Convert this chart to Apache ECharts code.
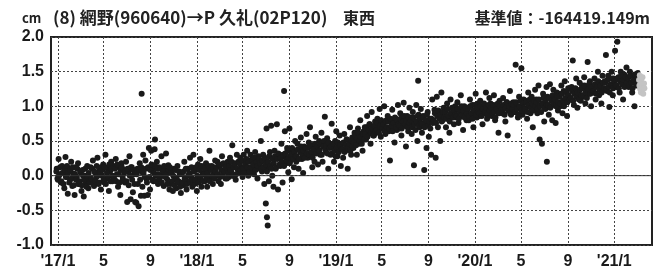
<!DOCTYPE html>
<html>
<head>
<meta charset="utf-8">
<script src="https://cdn.jsdelivr.net/npm/echarts@6/dist/echarts.min.js"></script>
<style>
  html, body { margin: 0; padding: 0; background: #fff; }
  #chart { width: 667px; height: 275px; }
</style>
</head>
<body>
<div id="chart"></div>
<script>
// 東西成分 (cm), 2016-12-28 から 3日おき
const mainStart = [2016, 12, 28]
const mainStep = 3
const mainValues = [
  0.06, -0.04, 0.24, 0.02, -0.1, 0.14, 0.04, -0.18, 0.27, -0.02,
  -0.26, 0.1, -0.06, 0.2, -0.15, 0.03, -0.28, 0.12, -0.02, 0.18,
  -0.12, 0.05, -0.22, 0.08, -0.3, 0.0, -0.1, 0.14, -0.18, -0.05,
  0.12, -0.08, 0.22, -0.15, 0.04, -0.02, 0.26, -0.12, 0.08, -0.2,
  0.0, 0.16, -0.1, 0.3, -0.04, 0.1, -0.22, 0.06, 0.2, -0.08,
  0.14, -0.06, 0.24, 0.02, -0.16, 0.12, -0.28, 0.18, -0.02, 0.08,
  -0.1, 0.2, -0.38, 0.06, 0.28, -0.34, 0.12, -0.24, 0.02, -0.38,
  -0.39, 0.1, -0.44, 0.18, -0.29, 0.05, 0.3, -0.29, 0.22, -0.05,
  -0.28, 0.4, -0.2, 0.36, 0.1, -0.08, 0.38, 0.0, 0.2, -0.12,
  0.12, -0.1, 0.28, 0.0, -0.15, 0.08, 0.32, -0.05, 0.15, -0.2,
  -0.12, 0.06, -0.22, 0.1, -0.04, -0.18, 0.14, -0.08, 0.02, -0.25,
  0.04, -0.14, 0.2, -0.06, -0.2, 0.1, -0.1, 0.26, -0.02, -0.16,
  0.3, -0.12, 0.08, -0.22, 0.16, -0.05, 0.24, -0.16, 0.04, 0.12,
  -0.08, 0.18, -0.16, 0.1, 0.36, -0.02, 0.14, -0.12, 0.06, 0.22,
  0.0, 0.2, -0.08, 0.14, -0.12, 0.28, 0.04, 0.16, -0.04, 0.1,
  0.2, -0.02, 0.26, 0.06, 0.44, 0.0, 0.18, -0.06, 0.3, 0.08,
  0.04, 0.26, 0.12, -0.02, 0.3, 0.2, 0.08, 0.36, 0.0, 0.22,
  0.3, 0.08, 0.26, 0.02, 0.34, 0.14, -0.04, 0.28, 0.1, 0.5,
  0.06, 0.3, -0.12, 0.22, 0.68, 0.12, -0.08, 0.34, 0.72, 0.0,
  -0.16, 0.36, 0.1, 0.74, -0.2, 0.3, 0.14, 0.46, -0.1, 0.28,
  0.64, 0.18, 0.4, 0.05, 0.68, 0.22, -0.05, 0.36, 0.12, 0.5,
  0.2, 0.46, 0.1, 0.38, 0.55, 0.24, 0.04, 0.42, 0.3, 0.6,
  0.26, 0.48, 0.7, 0.3, 0.12, 0.44, 0.2, 0.56, 0.36, 0.16,
  0.5, 0.3, 0.62, 0.2, 0.44, 0.85, 0.34, 0.54, 0.1, 0.46,
  0.3, 0.75, 0.44, 0.2, 0.5, 0.64, 0.28, 0.4, 0.58, 0.14,
  0.46, 0.26, 0.6, 0.36, 0.52, 0.1, 0.44, 0.7, 0.3, 0.55,
  0.4, 0.62, 0.5, 0.3, 0.68, 0.46, 0.8, 0.56, 0.36, 0.64,
  0.7, 0.52, 0.86, 0.6, 0.74, 0.46, 0.92, 0.66, 0.58, 0.78,
  0.62, 0.82, 0.7, 0.96, 0.56, 0.76, 0.68, 1.0, 0.6, 0.8,
  0.86, 0.64, 0.22, 0.78, 0.95, 0.7, 0.48, 0.82, 0.66, 1.02,
  0.68, 0.9, 0.58, 0.8, 1.05, 0.72, 0.42, 0.86, 0.64, 0.98,
  0.84, 0.6, 0.92, 0.15, 0.76, 1.02, 0.5, 0.88, 0.7, 0.96,
  0.62, 0.86, 0.08, 0.74, 0.4, 0.92, 0.56, 0.82, 0.3, 1.1,
  0.78, 0.95, 0.26, 1.14, 0.7, 0.88, 0.5, 1.2, 0.8, 0.98,
  0.92, 0.7, 1.04, 0.82, 0.62, 1.1, 0.86, 0.96, 0.74, 1.0,
  0.84, 1.06, 0.76, 0.94, 1.16, 0.86, 0.66, 1.0, 0.9, 0.8,
  0.98, 0.8, 1.1, 0.88, 1.02, 0.7, 0.94, 1.18, 0.84, 1.04,
  0.86, 1.08, 0.96, 0.74, 1.0, 0.9, 1.2, 0.82, 0.98, 1.12,
  1.04, 0.86, 0.96, 1.16, 0.8, 1.02, 0.92, 0.62, 1.08, 0.94,
  0.9, 1.12, 0.98, 0.78, 1.06, 0.58, 1.0, 1.22, 0.88, 1.04,
  1.06, 0.92, 1.6, 1.0, 0.84, 1.14, 0.96, 1.55, 0.88, 1.1,
  0.94, 1.08, 0.82, 1.2, 1.0, 0.9, 1.14, 0.7, 1.04, 1.24,
  1.1, 0.9, 1.3, 0.52, 1.02, 0.46, 1.18, 0.78, 0.96, 1.28,
  1.14, 0.88, 1.32, 1.0, 0.8, 1.24, 1.08, 0.76, 1.2, 0.94,
  1.18, 1.0, 1.3, 0.9, 1.22, 1.36, 1.06, 0.86, 1.26, 1.12,
  1.1, 1.28, 1.66, 1.02, 1.24, 1.4, 0.98, 1.2, 1.34, 1.08,
  1.3, 1.14, 1.42, 1.04, 1.26, 1.64, 1.18, 1.36, 1.0, 1.28,
  1.2, 1.4, 1.1, 1.32, 1.5, 1.16, 1.28, 1.04, 1.44, 1.24,
  1.36, 1.74, 1.22, 1.44, 0.99, 1.3, 1.5, 1.16, 1.4, 1.8,
  1.28, 1.93, 1.42, 1.2, 1.5, 1.34, 1.1, 1.46, 1.3, 1.56,
  1.42, 1.28, 1.5, 1.34, 1.2, 1.44, 1.0, 1.38, 1.3, 1.48
]

// 同じく 2016-12-29 から 3日おき (間の日)
const mainStart2 = [2016, 12, 29]
const mainValues2 = [
  0.1, -0.06, 0.0, 0.12, -0.08, 0.04, -0.12, 0.08, -0.02, 0.14,
  0.04, -0.1, 0.08, -0.04, 0.12, -0.14, 0.02, -0.06, 0.1, -0.12,
  -0.08, 0.06, -0.14, 0.0, -0.06, 0.1, -0.16, -0.02, 0.04, -0.1,
  -0.04, 0.1, -0.12, 0.06, -0.08, 0.14, 0.0, -0.1, 0.04, 0.12,
  0.08, -0.06, 0.12, -0.12, 0.04, -0.02, 0.16, -0.08, 0.1, 0.0,
  -0.04, 0.1, -0.08, 0.16, 0.02, -0.1, 0.08, 0.12, -0.06, 0.04,
  0.06, -0.08, 0.1, -0.14, 0.0, 0.12, -0.06, 0.08, -0.12, 0.04,
  0.02, -0.12, 0.08, -0.06, 0.12, -0.16, 0.04, -0.02, 0.1, -0.1,
  0.12, -0.02, 0.08, 0.16, -0.06, 0.04, 0.14, -0.08, 0.1, 0.02,
  -0.04, 0.1, -0.1, 0.06, 0.14, -0.02, 0.02, -0.12, 0.08, 0.12,
  0.04, -0.08, 0.0, -0.14, 0.08, -0.04, -0.1, 0.06, -0.16, 0.02,
  -0.1, 0.06, -0.04, 0.1, -0.12, 0.0, 0.04, -0.08, 0.12, -0.06,
  0.06, -0.06, 0.12, 0.0, -0.1, 0.08, -0.02, 0.14, -0.08, 0.02,
  0.1, -0.04, 0.04, 0.14, -0.08, 0.08, 0.0, 0.12, -0.04, 0.06,
  0.12, 0.02, 0.16, -0.02, 0.08, 0.0, 0.18, 0.06, 0.12, -0.04,
  0.04, 0.14, 0.08, 0.2, 0.0, 0.12, 0.16, 0.02, 0.1, 0.2,
  0.18, 0.08, 0.22, 0.1, 0.04, 0.16, 0.24, 0.12, 0.2, 0.06,
  0.12, 0.22, 0.16, 0.26, 0.08, 0.2, 0.14, 0.24, 0.18, 0.1,
  0.22, 0.12, 0.26, 0.16, 0.06, 0.2, 0.28, 0.14, 0.1, 0.24,
  0.18, 0.28, 0.12, 0.24, 0.32, 0.16, 0.26, 0.2, 0.3, 0.14,
  0.32, 0.22, 0.36, 0.26, 0.18, 0.3, 0.4, 0.24, 0.34, 0.28,
  0.28, 0.38, 0.24, 0.34, 0.42, 0.3, 0.36, 0.26, 0.4, 0.32,
  0.4, 0.3, 0.44, 0.34, 0.26, 0.38, 0.46, 0.32, 0.42, 0.36,
  0.36, 0.46, 0.3, 0.42, 0.5, 0.38, 0.44, 0.32, 0.48, 0.4,
  0.42, 0.32, 0.46, 0.36, 0.28, 0.4, 0.48, 0.34, 0.44, 0.38,
  0.38, 0.48, 0.34, 0.44, 0.52, 0.4, 0.46, 0.36, 0.5, 0.42,
  0.48, 0.58, 0.44, 0.54, 0.62, 0.5, 0.56, 0.46, 0.6, 0.52,
  0.6, 0.7, 0.56, 0.66, 0.74, 0.62, 0.68, 0.58, 0.72, 0.64,
  0.66, 0.76, 0.62, 0.72, 0.8, 0.68, 0.74, 0.64, 0.78, 0.7,
  0.78, 0.68, 0.82, 0.72, 0.64, 0.76, 0.84, 0.7, 0.8, 0.74,
  0.72, 0.82, 0.68, 0.78, 0.86, 0.74, 0.8, 0.7, 0.84, 0.76,
  0.8, 0.7, 0.84, 0.74, 0.66, 0.78, 0.86, 0.72, 0.82, 0.76,
  0.74, 0.84, 0.7, 0.8, 0.88, 0.72, 0.78, 0.68, 0.82, 0.76,
  0.8, 0.9, 0.76, 0.86, 0.94, 0.82, 0.88, 0.78, 0.92, 0.84,
  0.92, 0.82, 0.96, 0.86, 0.78, 0.9, 0.98, 0.84, 0.94, 0.88,
  0.86, 0.96, 0.82, 0.92, 1.0, 0.88, 0.94, 0.84, 0.98, 0.9,
  0.96, 0.86, 1.0, 0.9, 0.82, 0.94, 1.02, 0.88, 0.98, 0.92,
  0.9, 1.0, 0.86, 0.96, 1.04, 0.92, 0.98, 0.88, 1.02, 0.94,
  0.98, 0.88, 1.02, 0.92, 0.84, 0.96, 1.04, 0.9, 1.0, 0.94,
  0.92, 1.02, 0.88, 0.98, 1.06, 0.94, 1.0, 0.9, 1.04, 0.96,
  1.02, 0.92, 1.06, 0.96, 0.88, 1.0, 1.08, 0.94, 1.04, 0.98,
  0.96, 1.06, 0.92, 1.02, 1.1, 0.98, 1.04, 0.94, 1.08, 1.0,
  1.06, 0.96, 1.1, 1.0, 0.92, 1.04, 1.12, 0.98, 1.08, 1.02,
  1.02, 1.12, 0.98, 1.08, 1.16, 1.04, 1.1, 1.0, 1.14, 1.06,
  1.14, 1.04, 1.18, 1.08, 1.0, 1.12, 1.2, 1.06, 1.16, 1.1,
  1.12, 1.22, 1.08, 1.18, 1.26, 1.14, 1.2, 1.1, 1.24, 1.16,
  1.26, 1.16, 1.3, 1.2, 1.12, 1.24, 1.32, 1.18, 1.28, 1.22,
  1.22, 1.32, 1.18, 1.28, 1.36, 1.24, 1.3, 1.2, 1.34, 1.26,
  1.34, 1.24, 1.38, 1.28, 1.2, 1.32, 1.4, 1.26, 1.36, 1.3,
  1.3, 1.4, 1.26, 1.36, 1.44, 1.32, 1.38, 1.28, 1.42, 1.34,
  1.4, 1.3, 1.44, 1.34, 1.26, 1.38, 1.46, 1.32, 1.42, 1.36
]

// 飛び値
const outlierDates = ['2017-08-09', '2017-09-13', '2018-07-01', '2018-07-04', '2018-07-06', '2018-08-18', '2019-08-05', '2020-07-08']
const outlierValues = [1.18, 0.52, -0.4, -0.6, -0.72, 1.22, 1.37, 0.2]

// 速報値 (灰色)
const grayDates = ['2021-03-07', '2021-03-08', '2021-03-09', '2021-03-10', '2021-03-11', '2021-03-12', '2021-03-13', '2021-03-14', '2021-03-16', '2021-03-18', '2021-03-20', '2021-03-21']
const grayValues = [1.38, 1.3, 1.45, 1.25, 1.4, 1.2, 1.35, 1.28, 1.42, 1.18, 1.33, 1.26]
const hollowDates = ['2021-03-15', '2021-03-17', '2021-03-19']
const hollowValues = [1.65, 1.59, 1.52]

// 目盛
const tickDates = ['2017-01-01', '2017-05-01', '2017-09-01', '2018-01-01', '2018-05-01', '2018-09-01',
  '2019-01-01', '2019-05-01', '2019-09-01', '2020-01-01', '2020-05-01', '2020-09-01', '2021-01-01']
const tickLabels = ["'17/1", '5', '9', "'18/1", '5', '9', "'19/1", '5', '9', "'20/1", '5', '9', "'21/1"]

const DAY = 86400000
function ts(s) {
  const p = s.split('-').map(Number)
  return Date.UTC(p[0], p[1] - 1, p[2])
}
const t0 = Date.UTC(mainStart[0], mainStart[1] - 1, mainStart[2])
const t02 = Date.UTC(mainStart2[0], mainStart2[1] - 1, mainStart2[2])
const mainData = mainValues.map((v, i) => [t0 + i * mainStep * DAY, v])
  .concat(mainValues2.map((v, i) => [t02 + i * mainStep * DAY, v]))
const outlierData = outlierDates.map((d, i) => [ts(d), outlierValues[i]])
const grayData = grayDates.map((d, i) => [ts(d), grayValues[i]])
const hollowData = hollowDates.map((d, i) => [ts(d), hollowValues[i]])
const tickTs = tickDates.map(ts)
const xMin = ts('2016-12-14')
const xMax = ts('2021-04-10')

const chart = echarts.init(document.getElementById('chart'))
const axisFont = { fontFamily: 'Liberation Sans', fontWeight: 'bold', fontSize: 16, color: '#1a1a1a' }
const titleFont = '"Noto Sans CJK JP"'

chart.setOption({
  animation: false,
  grid: {
    left: 51, right: 15, top: 37, bottom: 30,
    show: true, borderColor: '#222', borderWidth: 2, backgroundColor: 'transparent'
  },
  graphic: [
    { type: 'text', x: 22, y: 18, style: { text: 'cm', font: 'bold 13px ' + titleFont, fill: '#222', textVerticalAlign: 'middle' } },
    { type: 'text', x: 53, y: 18, style: { text: '(8) 網野(960640)→P 久礼(02P120)', font: 'bold 17px ' + titleFont, fill: '#222', textVerticalAlign: 'middle' } },
    { type: 'text', x: 343, y: 18, style: { text: '東西', font: 'bold 16px ' + titleFont, fill: '#222', textVerticalAlign: 'middle' } },
    { type: 'text', x: 650, y: 18, style: { text: '基準値：-164419.149m', font: 'bold 16px ' + titleFont, fill: '#222', textAlign: 'right', textVerticalAlign: 'middle' } }
  ],
  xAxis: {
    type: 'value',
    min: xMin,
    max: xMax,
    axisLine: { show: false },
    axisTick: { show: false, customValues: tickTs },
    axisLabel: {
      customValues: tickTs,
      margin: 9,
      ...axisFont,
      formatter: (val) => {
        const k = tickTs.indexOf(val)
        return k >= 0 ? tickLabels[k] : ''
      }
    },
    splitLine: { show: true, lineStyle: { color: '#444', width: 1, type: [2, 2] } }
  },
  yAxis: {
    type: 'value',
    min: -1,
    max: 2,
    interval: 0.5,
    axisLine: { show: false },
    axisTick: { show: false },
    axisLabel: { margin: 7, ...axisFont, formatter: (v) => v.toFixed(1) },
    splitLine: { show: true, lineStyle: { color: '#444', width: 1, type: [2, 2] } }
  },
  series: [
    {
      type: 'line',
      data: [[xMin, 0], [xMax, 0]],
      symbol: 'none',
      silent: true,
      lineStyle: { color: '#333', width: 1 }
    },
    {
      type: 'scatter',
      data: mainData.concat(outlierData),
      symbol: 'circle',
      symbolSize: 6,
      itemStyle: { color: '#1a1a1a', opacity: 1 }
    },
    {
      type: 'scatter',
      data: grayData,
      symbol: 'circle',
      symbolSize: 6,
      itemStyle: { color: '#c4c4c4', opacity: 1 }
    },
    {
      type: 'scatter',
      data: hollowData,
      symbol: 'emptyCircle',
      symbolSize: 5,
      itemStyle: { color: '#fff', borderColor: '#bdbdbd', borderWidth: 1.5, opacity: 1 }
    }
  ]
})
</script>
</body>
</html>
